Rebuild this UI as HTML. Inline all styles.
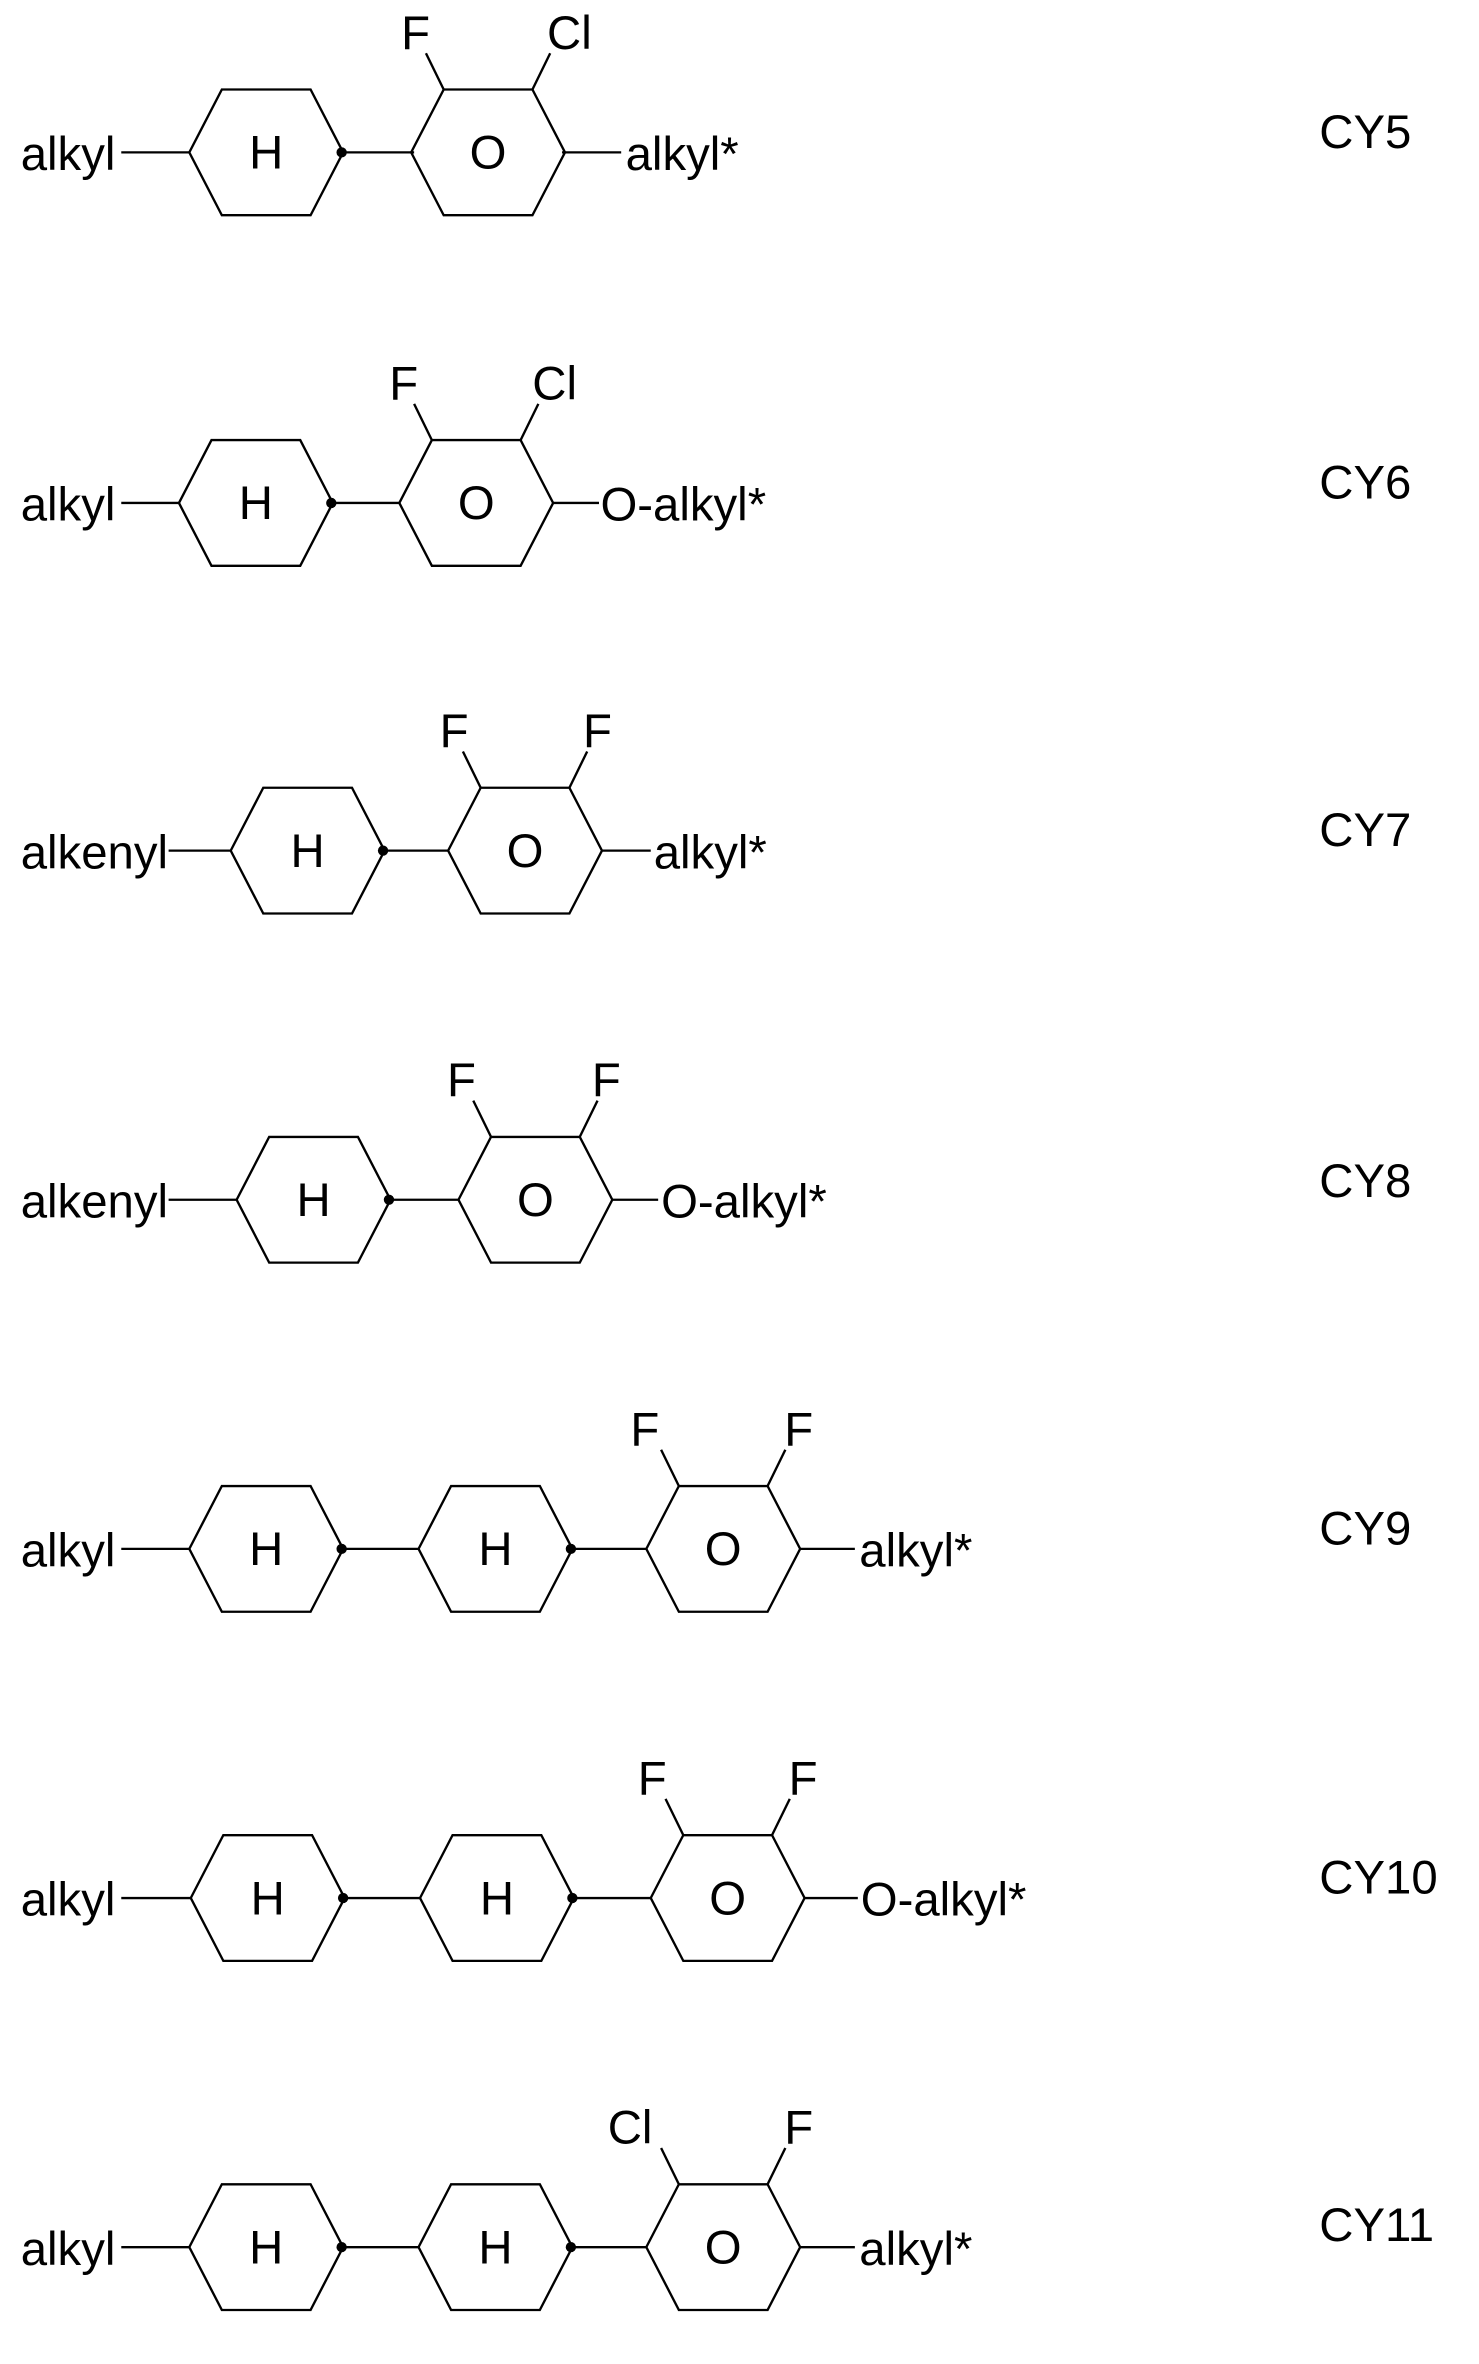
<!DOCTYPE html>
<html><head><meta charset="utf-8"><style>
html,body{margin:0;padding:0;background:#fff}
svg{display:block}
text{font-family:"Liberation Sans",Arial,sans-serif;font-size:32px;fill:#000}
</style></head><body>
<svg width="1479" height="2364" viewBox="0 0 1000 1598" preserveAspectRatio="none" xmlns="http://www.w3.org/2000/svg">
<defs>
<g id="hex"><polygon points="-52,0 -30,-42.5 30,-42.5 52,0 30,42.5 -30,42.5" fill="none" stroke="#000" stroke-width="1.6"/></g>
</defs>
<g stroke="#000" stroke-width="1.6" fill="none">
<line x1="82" y1="103" x2="128" y2="103"/><line x1="232" y1="103" x2="280" y2="103"/><line x1="380" y1="103" x2="420" y2="103"/>
<line x1="300" y1="60.5" x2="288" y2="36"/><line x1="360" y1="60.5" x2="372" y2="36"/>
<line x1="82" y1="340" x2="121" y2="340"/><line x1="225" y1="340" x2="270" y2="340"/><line x1="374" y1="340" x2="405" y2="340"/>
<line x1="292" y1="297.5" x2="280" y2="273"/><line x1="352" y1="297.5" x2="364" y2="273"/>
<line x1="114" y1="575" x2="156" y2="575"/><line x1="260" y1="575" x2="303" y2="575"/><line x1="407" y1="575" x2="440" y2="575"/>
<line x1="325" y1="532.5" x2="313" y2="508"/><line x1="385" y1="532.5" x2="397" y2="508"/>
<line x1="114" y1="811" x2="160" y2="811"/><line x1="264" y1="811" x2="310" y2="811"/><line x1="414" y1="811" x2="445" y2="811"/>
<line x1="332" y1="768.5" x2="320" y2="744"/><line x1="392" y1="768.5" x2="404" y2="744"/>
<line x1="82" y1="1047" x2="128" y2="1047"/><line x1="232" y1="1047" x2="283" y2="1047"/><line x1="387" y1="1047" x2="437" y2="1047"/><line x1="541" y1="1047" x2="578" y2="1047"/>
<line x1="459" y1="1004.5" x2="447" y2="980"/><line x1="519" y1="1004.5" x2="531" y2="980"/>
<line x1="82" y1="1283" x2="129" y2="1283"/><line x1="233" y1="1283" x2="284" y2="1283"/><line x1="388" y1="1283" x2="440" y2="1283"/><line x1="544" y1="1283" x2="580" y2="1283"/>
<line x1="462" y1="1240.5" x2="450" y2="1216"/><line x1="522" y1="1240.5" x2="534" y2="1216"/>
<line x1="82" y1="1519" x2="128" y2="1519"/><line x1="232" y1="1519" x2="283" y2="1519"/><line x1="387" y1="1519" x2="437" y2="1519"/><line x1="541" y1="1519" x2="578" y2="1519"/>
<line x1="459" y1="1476.5" x2="447" y2="1452"/><line x1="519" y1="1476.5" x2="531" y2="1452"/>
</g>
<use href="#hex" x="180" y="103"/><use href="#hex" x="330" y="103"/>
<use href="#hex" x="173" y="340"/><use href="#hex" x="322" y="340"/>
<use href="#hex" x="208" y="575"/><use href="#hex" x="355" y="575"/>
<use href="#hex" x="212" y="811"/><use href="#hex" x="362" y="811"/>
<use href="#hex" x="180" y="1047"/><use href="#hex" x="335" y="1047"/><use href="#hex" x="489" y="1047"/>
<use href="#hex" x="181" y="1283"/><use href="#hex" x="336" y="1283"/><use href="#hex" x="492" y="1283"/>
<use href="#hex" x="180" y="1519"/><use href="#hex" x="335" y="1519"/><use href="#hex" x="489" y="1519"/>
<g fill="#000">
<circle cx="231" cy="103" r="3.5"/><circle cx="224" cy="340" r="3.5"/><circle cx="259" cy="575" r="3.5"/><circle cx="263" cy="811" r="3.5"/>
<circle cx="231" cy="1047" r="3.5"/><circle cx="386" cy="1047" r="3.5"/>
<circle cx="232" cy="1283" r="3.5"/><circle cx="387" cy="1283" r="3.5"/>
<circle cx="231" cy="1519" r="3.5"/><circle cx="386" cy="1519" r="3.5"/>
</g>
<g text-anchor="middle">
<text x="180" y="114">H</text><text x="330" y="114">O</text><text x="281" y="33">F</text><text x="385" y="33">Cl</text>
<text x="173" y="351">H</text><text x="322" y="351">O</text><text x="273" y="270">F</text><text x="375" y="270">Cl</text>
<text x="208" y="586">H</text><text x="355" y="586">O</text><text x="307" y="505">F</text><text x="404" y="505">F</text>
<text x="212" y="822">H</text><text x="362" y="822">O</text><text x="312" y="741">F</text><text x="410" y="741">F</text>
<text x="180" y="1058">H</text><text x="335" y="1058">H</text><text x="489" y="1058">O</text><text x="436" y="977">F</text><text x="540" y="977">F</text>
<text x="181" y="1294">H</text><text x="336" y="1294">H</text><text x="492" y="1294">O</text><text x="441" y="1213">F</text><text x="543" y="1213">F</text>
<text x="180" y="1530">H</text><text x="335" y="1530">H</text><text x="489" y="1530">O</text><text x="426" y="1449">Cl</text><text x="540" y="1449">F</text>
</g>
<g>
<text x="14" y="115">alkyl</text><text x="423" y="115">alkyl*</text>
<text x="14" y="352">alkyl</text><text x="406" y="352">O-alkyl*</text>
<text x="14" y="587">alkenyl</text><text x="442" y="587">alkyl*</text>
<text x="14" y="823">alkenyl</text><text x="447" y="823">O-alkyl*</text>
<text x="14" y="1059">alkyl</text><text x="581" y="1059">alkyl*</text>
<text x="14" y="1295">alkyl</text><text x="582" y="1295">O-alkyl*</text>
<text x="14" y="1531">alkyl</text><text x="581" y="1531">alkyl*</text>
<text x="892" y="100">CY5</text><text x="892" y="337">CY6</text><text x="892" y="572">CY7</text><text x="892" y="809">CY8</text>
<text x="892" y="1044">CY9</text><text x="892" y="1280">CY10</text><text x="892" y="1515">CY11</text>
</g>
</svg>
</body></html>
